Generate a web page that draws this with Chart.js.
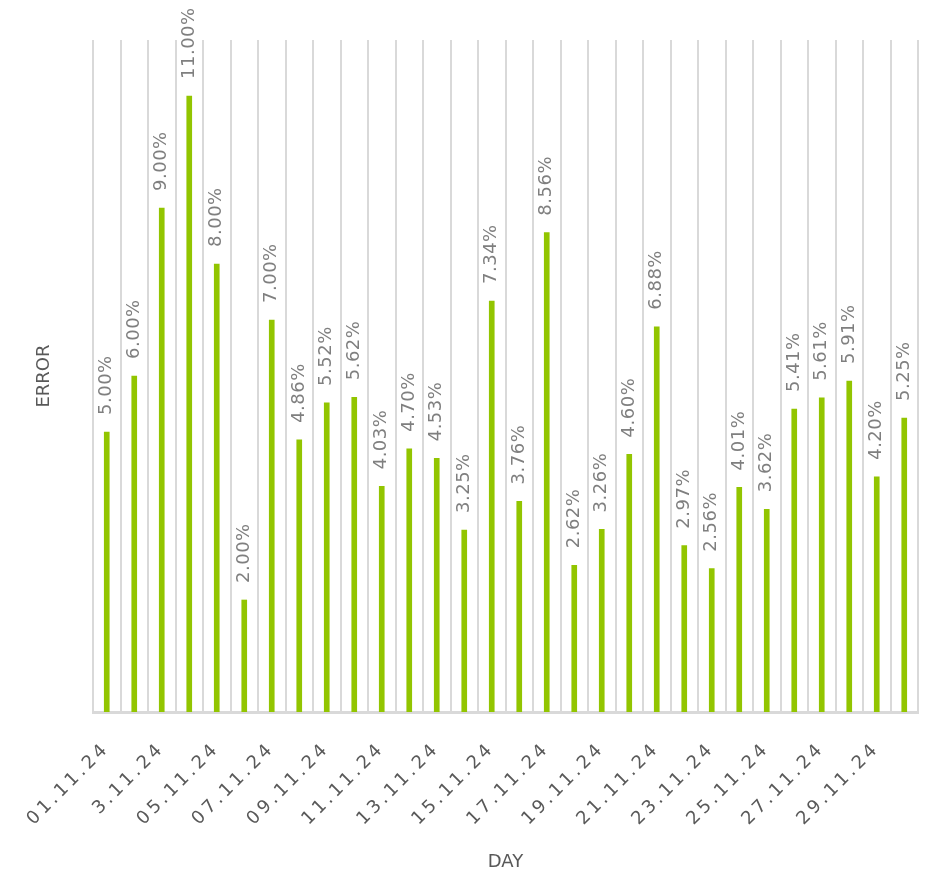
<!DOCTYPE html>
<html lang="en">
<head>
    <meta charset="UTF-8">
    <title>Error by Day</title>
    <script src="https://cdn.jsdelivr.net/npm/chart.js"></script>
    <style>
        html, body { margin: 0; padding: 0; background: #fff; }
        #wrap { width: 925px; height: 875px; }
    </style>
</head>
<body>
    <div id="wrap"><canvas id="errorChart"></canvas></div>

    <script>
        // Data
        const days = ['01.11.24', '02.11.24', '3.11.24', '04.11.24', '05.11.24', '06.11.24', '07.11.24', '08.11.24',
            '09.11.24', '10.11.24', '11.11.24', '12.11.24', '13.11.24', '14.11.24', '15.11.24', '16.11.24',
            '17.11.24', '18.11.24', '19.11.24', '20.11.24', '21.11.24', '22.11.24', '23.11.24', '24.11.24',
            '25.11.24', '26.11.24', '27.11.24', '28.11.24', '29.11.24', '30.11.24'];
        const errorPct = [5.00, 6.00, 9.00, 11.00, 8.00, 2.00, 7.00, 4.86, 5.52, 5.62, 4.03, 4.70, 4.53, 3.25, 7.34,
            3.76, 8.56, 2.62, 3.26, 4.60, 6.88, 2.97, 2.56, 4.01, 3.62, 5.41, 5.61, 5.91, 4.20, 5.25];

        const FONT = "'DejaVu Sans', sans-serif";
        const GREY = '#595959';

        // rotated value labels above each bar
        const valueLabels = {
            id: 'valueLabels',
            afterDatasetsDraw(chart) {
                const ctx = chart.ctx;
                const meta = chart.getDatasetMeta(0);
                ctx.save();
                ctx.font = '18px ' + FONT;
                ctx.letterSpacing = '0.5px';
                ctx.fillStyle = '#7f7f7f';
                ctx.textAlign = 'left';
                ctx.textBaseline = 'middle';
                meta.data.forEach((bar, i) => {
                    ctx.save();
                    ctx.translate(bar.x, bar.y - 17);
                    ctx.rotate(-Math.PI / 2);
                    ctx.fillText(errorPct[i].toFixed(2) + '%', 0, 0);
                    ctx.restore();
                });
                ctx.restore();
            }
        };

        // wide letter spacing for the day labels only
        const spacedTicks = {
            id: 'spacedTicks',
            beforeDraw(chart) {
                const sc = chart.scales.x;
                if (sc._spaced) return;
                const orig = sc.drawLabels;
                sc.drawLabels = function (area) {
                    this.ctx.save();
                    this.ctx.letterSpacing = '3.5px';
                    orig.call(this, area);
                    this.ctx.restore();
                };
                sc._spaced = true;
            }
        };

        new Chart(document.getElementById('errorChart'), {
            type: 'bar',
            data: {
                labels: days,
                datasets: [{
                    data: errorPct,
                    backgroundColor: '#92c500',
                    barThickness: 5
                }]
            },
            plugins: [spacedTicks, valueLabels],
            options: {
                responsive: true,
                maintainAspectRatio: false,
                animation: false,
                layout: { padding: { top: 40, left: 26, right: 7, bottom: 2 } },
                plugins: {
                    legend: { display: false },
                    tooltip: { enabled: false }
                },
                scales: {
                    x: {
                        afterFit: s => { s.height = 161; s.paddingLeft = 0; s.paddingRight = 0; },
                        grid: { color: '#d9d9d9', lineWidth: 2, drawTicks: false, offset: true },
                        border: { color: '#d9d9d9', width: 3 },
                        ticks: {
                            autoSkip: false,
                            maxRotation: 45,
                            minRotation: 45,
                            padding: 26,
                            color: GREY,
                            font: { family: FONT, size: 18 },
                            callback: (v, i) => i % 2 === 0 ? days[i] : ''
                        },
                        title: {
                            display: true,
                            text: 'DAY',
                            color: GREY,
                            font: { family: FONT, size: 18 },
                            padding: { top: 0, bottom: 0 }
                        }
                    },
                    y: {
                        min: 0,
                        max: 12,
                        afterFit: s => { s.width = 67; },
                        grid: { display: false },
                        border: { display: false },
                        ticks: { display: false },
                        title: {
                            display: true,
                            text: 'ERROR',
                            color: GREY,
                            font: { family: FONT, size: 18 },
                            padding: { top: 8, bottom: 0 }
                        }
                    }
                }
            }
        });
    </script>
</body>
</html>
